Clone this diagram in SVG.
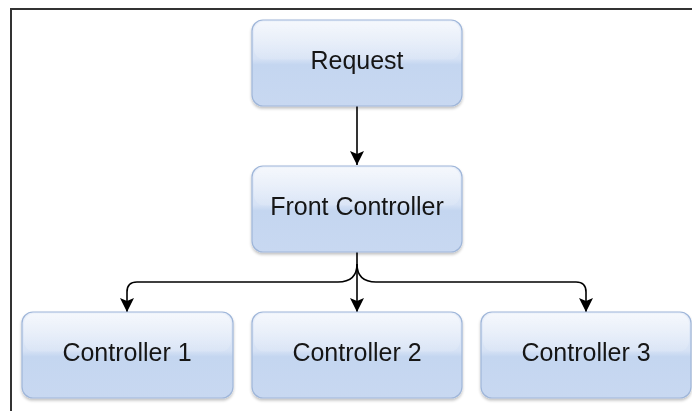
<svg xmlns="http://www.w3.org/2000/svg" width="692" height="411" viewBox="0 0 692 411">
  <style>
    .box { fill: url(#glass); stroke: #9fb6d9; stroke-width: 1.2; }
    .shine { fill: url(#gloss); }
    .label { font-family: "Liberation Sans", Arial, sans-serif; font-size: 25px; fill: #141414; text-anchor: middle; }
    .edge { fill: none; stroke: #000; stroke-width: 1.6; }
    .frame { fill: none; stroke: #333; stroke-width: 2; }
  </style>
  <defs>
    <linearGradient id="glass" x1="0" y1="0" x2="0" y2="1">
      <stop offset="0" stop-color="#eaf0fa"/>
      <stop offset="0.45" stop-color="#d6e2f5"/>
      <stop offset="0.52" stop-color="#c4d6f0"/>
      <stop offset="1" stop-color="#c8d8f1"/>
    </linearGradient>
    <linearGradient id="gloss" x1="0" y1="0" x2="0" y2="1">
      <stop offset="0" stop-color="#ffffff" stop-opacity="0.5"/>
      <stop offset="1" stop-color="#ffffff" stop-opacity="0.1"/>
    </linearGradient>
    <filter id="shadow" x="-10%" y="-10%" width="120%" height="130%">
      <feGaussianBlur in="SourceAlpha" stdDeviation="1.5"/>
      <feOffset dx="0" dy="2" result="b"/>
      <feComponentTransfer><feFuncA type="linear" slope="0.25"/></feComponentTransfer>
      <feMerge><feMergeNode/><feMergeNode in="SourceGraphic"/></feMerge>
    </filter>
    <marker id="arrow" viewBox="0 0 14 14" refX="14" refY="7" markerWidth="14" markerHeight="14" markerUnits="userSpaceOnUse" orient="auto">
      <path d="M0,0 L14,7 L0,14 L3,7 Z" fill="#000"/>
    </marker>
  </defs>

  <rect width="692" height="411" fill="#fff"/>
  <!-- outer frame: top and left edges -->
  <path class="frame" d="M11,411 V9 H692"/>

  <g id="connectors">
    <path class="edge" d="M357,106 V165" marker-end="url(#arrow)"/>
    <path class="edge" d="M357,252 V312" marker-end="url(#arrow)"/>
    <path class="edge" d="M357,264 Q357,282 338,282 H137 Q127,282 127,292 V312" marker-end="url(#arrow)"/>
    <path class="edge" d="M357,264 Q357,282 376,282 H576 Q586,282 586,292 V312" marker-end="url(#arrow)"/>
  </g>

  <g id="request" filter="url(#shadow)">
    <rect class="box" x="252" y="20" width="210" height="86" rx="11"/>
    <rect class="shine" x="254" y="21.5" width="206" height="38" rx="10"/>
    <text class="label" x="357" y="69">Request</text>
  </g>

  <g id="front-controller" filter="url(#shadow)">
    <rect class="box" x="252" y="166" width="210" height="86" rx="11"/>
    <rect class="shine" x="254" y="167.5" width="206" height="38" rx="10"/>
    <text class="label" x="357" y="215">Front Controller</text>
  </g>

  <g id="controller-1" filter="url(#shadow)">
    <rect class="box" x="22" y="312" width="211" height="86" rx="11"/>
    <rect class="shine" x="24" y="313.5" width="207" height="38" rx="10"/>
    <text class="label" x="127" y="361">Controller 1</text>
  </g>

  <g id="controller-2" filter="url(#shadow)">
    <rect class="box" x="252" y="312" width="210" height="86" rx="11"/>
    <rect class="shine" x="254" y="313.5" width="206" height="38" rx="10"/>
    <text class="label" x="357" y="361">Controller 2</text>
  </g>

  <g id="controller-3" filter="url(#shadow)">
    <rect class="box" x="481" y="312" width="210" height="86" rx="11"/>
    <rect class="shine" x="483" y="313.5" width="206" height="38" rx="10"/>
    <text class="label" x="586" y="361">Controller 3</text>
  </g>
</svg>
